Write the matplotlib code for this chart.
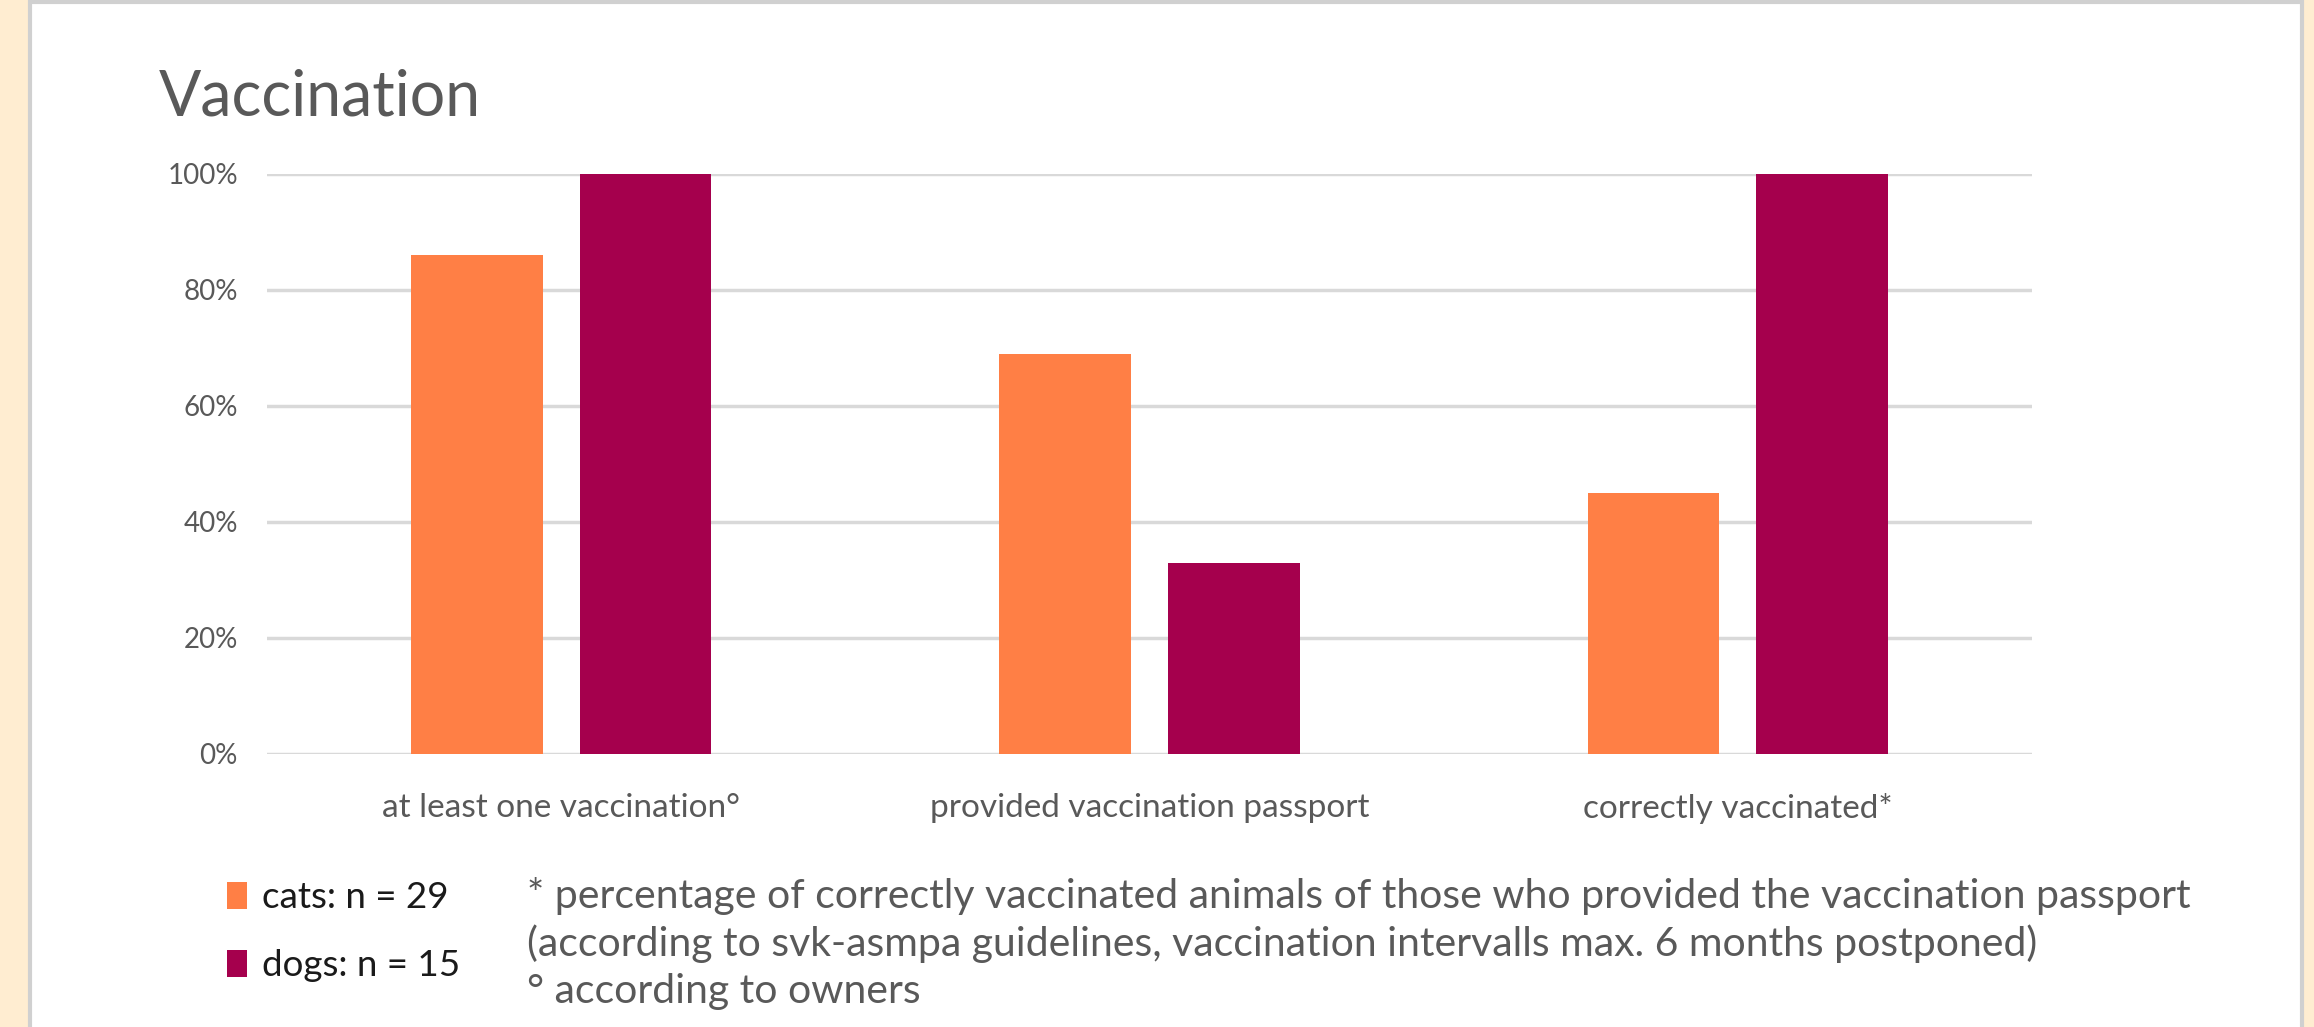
import matplotlib.pyplot as plt
from matplotlib import font_manager
from matplotlib.patches import Rectangle
import numpy as np

categories = ["at least one vaccination°", "provided vaccination passport", "correctly vaccinated*"]
cats = [0.86, 0.69, 0.45]
dogs = [1.00, 0.33, 1.00]
series_labels = ["cats: n = 29", "dogs: n = 15"]
y_ticks = [0.0, 0.2, 0.4, 0.6, 0.8, 1.0]
y_tick_labels = ["0%", "20%", "40%", "60%", "80%", "100%"]
footnotes = [
    "* percentage of correctly vaccinated animals of those who provided the vaccination passport",
    "(according to svk-asmpa guidelines, vaccination intervalls max. 6 months postponed)",
    "° according to owners",
]

CAT_COLOR = "#FF7F45"
DOG_COLOR = "#A5004D"
GREY = "#595959"


def first_font(names):
    for n in names:
        try:
            font_manager.findfont(n, fallback_to_default=False)
            return n
        except ValueError:
            continue
    return "DejaVu Sans"


NARROW = first_font(["Liberation Sans Narrow", "DejaVu Sans Condensed", "Lato"])
BODY = first_font(["Lato", "Liberation Sans"])

W, H = 2314, 1027
fig = plt.figure(figsize=(W / 100, H / 100), dpi=100)
fig.patch.set_facecolor("#FFEDD1")

# white panel with grey border
panel = Rectangle((30 / W, -0.05), (2302 - 30) / W, 1.05 - 2 / H,
                  transform=fig.transFigure, facecolor="white",
                  edgecolor="#D0D0D0", linewidth=3, zorder=-10)
fig.patches.append(panel)

ax = fig.add_axes([267 / W, (H - 754) / H, (2032 - 267) / W, (754 - 174) / H])
ax.set_facecolor("none")
ax.set_zorder(1)

x = np.arange(len(categories))
width = 0.224
offset = 0.1435
b1 = ax.bar(x - offset, cats, width, color=CAT_COLOR, zorder=3, label=series_labels[0])
b2 = ax.bar(x + offset, dogs, width, color=DOG_COLOR, zorder=3, label=series_labels[1])

ax.set_xlim(-0.5, 2.5)
ax.set_ylim(0, 1.0)
ax.set_yticks(y_ticks)
ax.set_yticklabels(y_tick_labels, fontsize=20, color=GREY, family=BODY)
ax.set_xticks(x)
ax.set_xticklabels(categories, fontsize=24, color=GREY, family=BODY)
ax.tick_params(axis="both", length=0)
ax.tick_params(axis="y", pad=21)
ax.tick_params(axis="x", pad=28)
ax.yaxis.grid(True, color="#D9D9D9", linewidth=2.5, zorder=0)
ax.set_axisbelow(True)
for s in ax.spines.values():
    s.set_visible(False)

fig.text(159 / W, 1 - 115 / H, "Vaccination", fontsize=45, color=GREY,
         family=NARROW, va="baseline", ha="left")

leg = ax.legend(handles=[b1, b2], loc="upper left", bbox_to_anchor=(194 / W, 1 - 848 / H),
                bbox_transform=fig.transFigure, frameon=False,
                handlelength=0.55, handleheight=0.75, handletextpad=0.4,
                labelspacing=0.95, prop={"family": NARROW, "size": 26.5})
for t in leg.get_texts():
    t.set_color("#1A1A1A")

for i, line in enumerate(footnotes):
    fig.text(527 / W, 1 - (896 + i * 48) / H, line, fontsize=29.5, color=GREY,
             family=NARROW, va="center", ha="left")

fig.savefig("out.png", dpi=100, facecolor=fig.get_facecolor())
